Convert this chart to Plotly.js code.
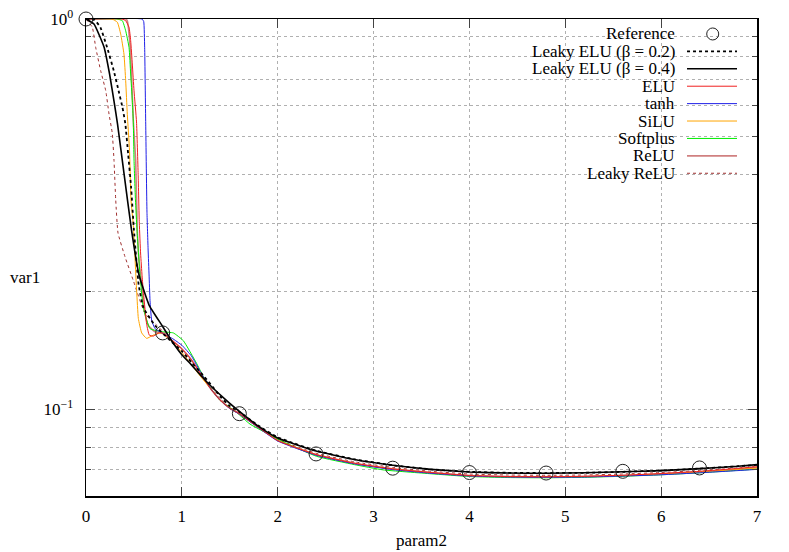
<!DOCTYPE html>
<html>
<head>
<meta charset="utf-8">
<script src="https://cdn.plot.ly/plotly-3.0.1.min.js"></script>
<style>
  body { margin: 0; background: #fff; }
  #chart { width: 789px; height: 552px; }
  #chart svg text { font-family: 'Liberation Serif', 'DejaVu Serif', serif !important; }
</style>
</head>
<body>
<div id="chart"></div>
<script>
// reference points (circles)
var xRef = [0, 0.8, 1.6, 2.4, 3.2, 4.0, 4.8, 5.6, 6.4];
var yRef = [1.0, 0.157, 0.0975, 0.0769, 0.0707, 0.0689, 0.0687, 0.0694, 0.0708];

// Leaky ELU (beta = 0.2)
var xLelu2 = [0, 0.09, 0.15, 0.22, 0.29, 0.34, 0.38, 0.41, 0.44, 0.47, 0.50, 0.55, 0.60, 0.72, 0.88, 1.0, 1.1, 1.2, 1.3, 1.4, 1.5, 1.6, 1.8, 2.0, 2.4, 2.8, 3.2, 3.6, 4.0, 4.4, 4.8, 5.2, 5.6, 6.0, 6.4, 6.8, 7.0];
var yLelu2 = [1, 0.994, 0.952, 0.846, 0.737, 0.655, 0.594, 0.54, 0.45, 0.372, 0.288, 0.208, 0.182, 0.164, 0.150, 0.141, 0.132, 0.124, 0.116, 0.108, 0.102, 0.0985, 0.0908, 0.0848, 0.0784, 0.0745, 0.0719, 0.0702, 0.0692, 0.0688, 0.0687, 0.0688, 0.0692, 0.0697, 0.0705, 0.0715, 0.0721];

// Leaky ELU (beta = 0.4)
var xLelu4 = [0, 0.083, 0.188, 0.246, 0.292, 0.329, 0.396, 0.475, 0.553, 0.658, 0.793, 0.9, 1.0, 1.1, 1.2, 1.3, 1.4, 1.5, 1.6, 1.8, 2.0, 2.4, 2.8, 3.2, 3.6, 4.0, 4.4, 4.8, 5.2, 5.6, 6.0, 6.4, 6.8, 7.0];
var yLelu4 = [1, 0.971, 0.848, 0.723, 0.616, 0.538, 0.403, 0.288, 0.221, 0.185, 0.164, 0.149, 0.138, 0.130, 0.122, 0.115, 0.109, 0.1036, 0.0988, 0.0905, 0.0845, 0.0782, 0.0744, 0.0719, 0.0702, 0.0691, 0.0687, 0.0686, 0.0688, 0.0692, 0.0697, 0.0705, 0.0715, 0.0722];

// ELU
var xElu = [0, 0.376, 0.414, 0.449, 0.466, 0.483, 0.501, 0.527, 0.544, 0.556, 0.57, 0.585, 0.6, 0.633, 0.66, 0.70, 0.76, 0.8, 0.9, 1.0, 1.1, 1.2, 1.3, 1.4, 1.5, 1.6, 2.0, 2.4, 2.8, 3.2, 3.6, 4.0, 4.4, 4.8, 5.2, 5.6, 6.0, 6.4, 6.8, 7.0];
var yElu = [1, 1, 0.990, 0.952, 0.880, 0.767, 0.655, 0.545, 0.40, 0.30, 0.250, 0.22, 0.198, 0.165, 0.155, 0.154, 0.157, 0.157, 0.150, 0.143, 0.134, 0.123, 0.113, 0.1055, 0.1008, 0.0975, 0.0832, 0.0766, 0.0728, 0.0704, 0.0689, 0.0677, 0.0673, 0.0672, 0.0674, 0.0678, 0.0685, 0.0694, 0.0706, 0.0713];

// tanh
var xTanh = [0, 0.584, 0.602, 0.612, 0.623, 0.636, 0.648, 0.658, 0.668, 0.685, 0.72, 0.772, 0.85, 0.9, 1.0, 1.1, 1.2, 1.3, 1.4, 1.5, 1.6, 2.0, 2.4, 2.8, 3.2, 3.6, 4.0, 4.4, 4.8, 5.2, 5.6, 6.0, 6.4, 6.8, 7.0];
var yTanh = [1, 1, 0.985, 0.846, 0.538, 0.32, 0.256, 0.221, 0.19, 0.169, 0.161, 0.158, 0.154, 0.152, 0.146, 0.137, 0.124, 0.113, 0.1055, 0.1005, 0.0972, 0.0830, 0.0763, 0.0725, 0.0701, 0.0686, 0.0675, 0.0671, 0.0670, 0.0671, 0.0675, 0.0680, 0.0688, 0.0697, 0.0702];

// SiLU
var xSilu = [0, 0.271, 0.327, 0.362, 0.396, 0.414, 0.431, 0.454, 0.469, 0.494, 0.511, 0.529, 0.546, 0.581, 0.633, 0.702, 0.772, 0.8, 0.9, 1.0, 1.1, 1.2, 1.3, 1.4, 1.5, 1.6, 2.0, 2.4, 2.8, 3.2, 3.6, 4.0, 4.4, 4.8, 5.2, 5.6, 6.0, 6.4, 6.8, 7.0];
var ySilu = [1, 1, 0.981, 0.915, 0.813, 0.695, 0.570, 0.461, 0.344, 0.296, 0.244, 0.200, 0.171, 0.157, 0.152, 0.155, 0.157, 0.156, 0.149, 0.140, 0.130, 0.121, 0.113, 0.1055, 0.1005, 0.0972, 0.0833, 0.0766, 0.0727, 0.0703, 0.0688, 0.0676, 0.0672, 0.0671, 0.0673, 0.0677, 0.0683, 0.0691, 0.0702, 0.0708];

// Softplus
var xSoftplus = [0, 0.323, 0.379, 0.414, 0.449, 0.466, 0.483, 0.493, 0.501, 0.516, 0.532, 0.563, 0.598, 0.668, 0.806, 0.911, 1.015, 1.155, 1.259, 1.398, 1.572, 1.711, 2.058, 2.407, 2.8, 3.098, 3.6, 4.0, 4.4, 4.8, 5.2, 5.6, 6.0, 6.4, 6.8, 7.0];
var ySoftplus = [1, 1, 0.990, 0.933, 0.846, 0.723, 0.617, 0.551, 0.435, 0.344, 0.288, 0.221, 0.182, 0.161, 0.158, 0.157, 0.150, 0.131, 0.117, 0.1055, 0.0982, 0.0917, 0.0826, 0.0758, 0.0722, 0.0700, 0.0684, 0.0673, 0.0669, 0.0668, 0.0670, 0.0674, 0.0680, 0.0688, 0.0698, 0.0703];

// ReLU
var xRelu = [0, 0.417, 0.431, 0.459, 0.477, 0.493, 0.518, 0.535, 0.553, 0.581, 0.610, 0.650, 0.72, 0.8, 0.9, 1.0, 1.1, 1.2, 1.3, 1.4, 1.5, 1.6, 2.0, 2.4, 2.8, 3.2, 3.6, 4.0, 4.4, 4.8, 5.2, 5.6, 6.0, 6.4, 6.8, 7.0];
var yRelu = [1, 1, 0.988, 0.858, 0.697, 0.551, 0.435, 0.288, 0.241, 0.208, 0.179, 0.164, 0.158, 0.157, 0.150, 0.143, 0.134, 0.123, 0.113, 0.1058, 0.1008, 0.0976, 0.0833, 0.0766, 0.0728, 0.0704, 0.0689, 0.0677, 0.0673, 0.0672, 0.0673, 0.0677, 0.0684, 0.0692, 0.0703, 0.0710];

// Leaky ReLU
var xLrelu = [0, 0.066, 0.101, 0.153, 0.206, 0.240, 0.274, 0.292, 0.310, 0.334, 0.407, 0.493, 0.615, 0.741, 0.876, 1.0, 1.1, 1.2, 1.3, 1.4, 1.5, 1.6, 2.0, 2.4, 2.8, 3.2, 3.6, 4.0, 4.4, 4.8, 5.2, 5.6, 6.0, 6.4, 6.8, 7.0];
var yLrelu = [1, 0.952, 0.846, 0.737, 0.655, 0.571, 0.510, 0.435, 0.344, 0.283, 0.246, 0.214, 0.176, 0.164, 0.152, 0.142, 0.133, 0.123, 0.114, 0.1065, 0.1012, 0.0978, 0.0838, 0.0772, 0.0734, 0.0710, 0.0694, 0.0683, 0.0679, 0.0678, 0.0679, 0.0683, 0.0689, 0.0697, 0.0708, 0.0714];

var seriesNames = ['Leaky ELU (β = 0.2)', 'Leaky ELU (β = 0.4)', 'ELU', 'tanh', 'SiLU', 'Softplus', 'ReLU', 'Leaky ReLU'];
var seriesX = [xLelu2, xLelu4, xElu, xTanh, xSilu, xSoftplus, xRelu, xLrelu];
var seriesY = [yLelu2, yLelu4, yElu, yTanh, ySilu, ySoftplus, yRelu, yLrelu];
var seriesColors = ['#000000', '#000000', '#f02020', '#2020e8', '#ffa500', '#00ee00', '#d08080', '#a03030'];
var seriesDash = ['dot', 'solid', 'solid', 'solid', 'solid', 'solid', 'solid', 'dot'];
var seriesWidth = [1.8, 1.6, 1, 1, 1, 1, 1.6, 1];

var yMajor = [0.1, 1];
var yMajorText = ['10<sup>−1</sup>', '10<sup>0</sup>'];
var yMinor = [0.06, 0.07, 0.08, 0.09, 0.2, 0.3, 0.4, 0.5, 0.6, 0.7, 0.8, 0.9];

var font = 'Liberation Serif';

var data = [];
var order = [7, 6, 5, 4, 3, 2, 0, 1];
order.forEach(function (i) {
  data.push({
    x: seriesX[i], y: seriesY[i], type: 'scatter', mode: 'lines',
    name: seriesNames[i],
    line: {color: seriesColors[i], width: seriesWidth[i], dash: seriesDash[i], shape: 'spline', smoothing: 0.4},
    hoverinfo: 'skip'
  });
});
data.push({
  x: xRef, y: yRef, type: 'scatter', mode: 'markers', name: 'Reference',
  marker: {symbol: 'circle-open', size: 14, color: '#222', line: {width: 1}},
  cliponaxis: false
});

// gnuplot style key: text on the left, sample on the right
var keyNames = ['Reference'].concat(seriesNames);
var annotations = [];
var shapes = [];
var keyTop = 0.9686, keyStep = 0.0365;
keyNames.forEach(function (nm, k) {
  var yy = keyTop - k * keyStep;
  annotations.push({
    xref: 'paper', yref: 'paper', x: 0.8808, y: yy, xanchor: 'right', yanchor: 'middle',
    text: nm, showarrow: false, font: {family: font, size: 17, color: '#000'}
  });
  if (k === 0) {
    shapes.push({
      type: 'circle', xref: 'paper', yref: 'paper', xsizemode: 'pixel', ysizemode: 'pixel',
      xanchor: 0.934, yanchor: yy, x0: -6, x1: 6, y0: -6, y1: 6,
      line: {color: '#222', width: 1}
    });
  } else {
    var i = k - 1;
    shapes.push({
      type: 'line', xref: 'paper', yref: 'paper', x0: 0.8957, x1: 0.9702, y0: yy, y1: yy,
      line: {color: seriesColors[i], width: seriesWidth[i], dash: seriesDash[i]}
    });
  }
});

annotations.push({
  xref: 'paper', yref: 'paper', x: 0.5, y: -0.094, xanchor: 'center', yanchor: 'middle',
  text: 'param2', showarrow: false, font: {family: font, size: 17, color: '#000'}
});
annotations.push({
  xref: 'paper', yref: 'paper', x: -0.091, y: 0.459, xanchor: 'center', yanchor: 'middle',
  text: 'var1', showarrow: false, font: {family: font, size: 17, color: '#000'}
});

var layout = {
  width: 789,
  height: 552,
  margin: {l: 86, r: 32, t: 19, b: 56},
  paper_bgcolor: '#fff',
  plot_bgcolor: '#fff',
  showlegend: false,
  font: {family: font, size: 17, color: '#000'},
  xaxis: {
    range: [0, 7], dtick: 1, tick0: 0,
    showline: true, linecolor: '#000', linewidth: 1.5, mirror: 'allticks',
    ticks: 'inside', ticklen: 9, tickcolor: '#444', tickwidth: 1,
    showgrid: true, gridcolor: '#b0b0b0', griddash: 'dot', gridwidth: 1,
    zeroline: false, ticklabelstandoff: 4,
    tickfont: {family: font, size: 17, color: '#000'}
  },
  yaxis: {
    type: 'log', range: [Math.log10(0.06), 0],
    tickmode: 'array', tickvals: yMajor, ticktext: yMajorText,
    showline: true, linecolor: '#000', linewidth: 1.5, mirror: 'allticks',
    ticks: 'inside', ticklen: 9, tickcolor: '#444', tickwidth: 1,
    showgrid: true, gridcolor: '#b0b0b0', griddash: 'dot', gridwidth: 1,
    zeroline: false, ticklabelstandoff: 8,
    tickfont: {family: font, size: 17, color: '#000'},
    minor: {
      tickmode: 'array', tickvals: yMinor, ticks: 'inside', ticklen: 5,
      tickcolor: '#444', showgrid: true, gridcolor: '#b0b0b0', griddash: 'dot', gridwidth: 1
    }
  },
  annotations: annotations,
  shapes: shapes
};

Plotly.newPlot('chart', data, layout, {staticPlot: true});
</script>
</body>
</html>
